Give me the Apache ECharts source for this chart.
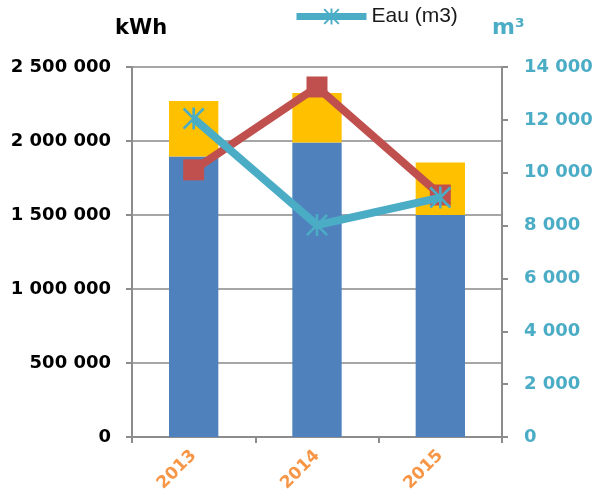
<!DOCTYPE html>
<html>
<head>
<meta charset="utf-8">
<script src="https://cdn.jsdelivr.net/npm/echarts@6/dist/echarts.min.js"></script>
<style>
html,body{margin:0;padding:0;background:#fff;}
#chart{width:603px;height:499px;}
</style>
</head>
<body>
<div id="chart"></div>
<script>
const categories = ['2013', '2014', '2015'];
const elecKWh = [1895000, 1990000, 1500000];
const gazKWh = [375000, 335000, 355000];
const totalLine = [1805000, 2365000, 1635000];
const eauM3 = [12050, 8020, 9060];
const leftTicks = { min: 0, max: 2500000, interval: 500000 };
const rightTicks = { min: 0, max: 14000, interval: 2000 };

const fmt = v => String(v).replace(/\B(?=(\d{3})+(?!\d))/g, ' ');
const starPath = 'path://M8.8 0L11.2 0L11.2 20L8.8 20Z M1.7 0L20 18.3L18.3 20L0 1.7Z M18.3 0L20 1.7L1.7 20L0 18.3Z';

const chart = echarts.init(document.getElementById('chart'));
chart.setOption({
  animation: false,
  backgroundColor: '#ffffff',
  grid: { left: 132, right: 101, top: 67, bottom: 62 },
  legend: {
    data: ['Eau (m3)'],
    left: 288, top: 1,
    itemWidth: 70, itemHeight: 20,
    itemGap: 4,
    lineStyle: { width: 7 },
    textStyle: { fontFamily: 'Liberation Sans', fontSize: 21, color: '#1a1a1a' }
  },
  xAxis: {
    type: 'category',
    data: categories,
    axisLine: { lineStyle: { color: '#8c8c8c', width: 2 } },
    axisTick: { show: true, length: 6, lineStyle: { color: '#8c8c8c', width: 2 } },
    axisLabel: {
      rotate: 45, margin: 16,
      color: '#f79646', fontFamily: 'DejaVu Sans', fontWeight: 'bold', fontSize: 17
    }
  },
  yAxis: [
    {
      type: 'value',
      min: leftTicks.min, max: leftTicks.max, interval: leftTicks.interval,
      name: 'kWh',
      nameLocation: 'end', nameGap: 28,
      nameTextStyle: { fontFamily: 'DejaVu Sans', fontWeight: 'bold', fontSize: 21, color: '#000', align: 'left', padding: [0, 0, 0, -17] },
      axisLine: { show: true, lineStyle: { color: '#8c8c8c', width: 2 } },
      axisTick: { show: true, length: 6, lineStyle: { color: '#8c8c8c', width: 2 } },
      splitLine: { show: true, lineStyle: { color: '#a6a6a6', width: 2 } },
      axisLabel: {
        margin: 21, formatter: fmt,
        color: '#000', fontFamily: 'DejaVu Sans', fontWeight: 'bold', fontSize: 18
      }
    },
    {
      type: 'value',
      position: 'right',
      min: rightTicks.min, max: rightTicks.max, interval: rightTicks.interval,
      name: 'm³',
      nameLocation: 'end', nameGap: 28,
      nameTextStyle: { fontFamily: 'DejaVu Sans', fontWeight: 'bold', fontSize: 22, color: '#4bacc6', align: 'left', padding: [0, 0, 0, -10] },
      axisLine: { show: true, lineStyle: { color: '#8c8c8c', width: 2 } },
      axisTick: { show: true, length: 6, lineStyle: { color: '#8c8c8c', width: 2 } },
      splitLine: { show: false },
      axisLabel: {
        margin: 22, formatter: fmt,
        color: '#4bacc6', fontFamily: 'DejaVu Sans', fontWeight: 'bold', fontSize: 18
      }
    }
  ],
  series: [
    {
      name: 'Électricité (kWh)', type: 'bar', stack: 'kwh', yAxisIndex: 0,
      data: elecKWh, barWidth: '40%',
      itemStyle: { color: '#4f81bd' }
    },
    {
      name: 'Gaz (kWh)', type: 'bar', stack: 'kwh', yAxisIndex: 0,
      data: gazKWh, barWidth: '40%',
      itemStyle: { color: '#ffc000' }
    },
    {
      name: 'Total (kWh)', type: 'line', yAxisIndex: 0,
      data: totalLine,
      symbol: 'rect', symbolSize: 21,
      lineStyle: { color: '#c0504d', width: 8 },
      itemStyle: { color: '#c0504d' },
      z: 3
    },
    {
      name: 'Eau (m3)', type: 'line', yAxisIndex: 1,
      data: eauM3,
      symbol: starPath, symbolSize: 22,
      lineStyle: { color: '#4bacc6', width: 8 },
      itemStyle: { color: '#4bacc6' },
      z: 4
    }
  ]
});
</script>
</body>
</html>
